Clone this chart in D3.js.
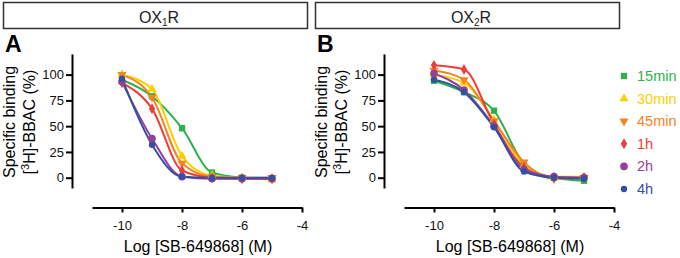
<!DOCTYPE html>
<html>
<head>
<meta charset="utf-8">
<script src="https://cdn.jsdelivr.net/npm/d3@7"></script>
<style>
  body { margin: 0; background: #fff; }
  text { font-family: "Liberation Sans", Arial, sans-serif; }
</style>
</head>
<body>
<script>
// ----------------------------------------
//  Data
// ----------------------------------------

var logConc = [-10, -9, -8, -7, -6, -5];
var seriesNames = ["15min", "30min", "45min", "1h", "2h", "4h"];
var seriesColors = ["#2bb24c", "#fcd000", "#f7821f", "#ee3d3a", "#973f98", "#3350a3"];
var seriesSymbols = ["square", "triangle", "triangleDown", "diamond", "circle", "circleSmall"];

// panel A : OX1R
var ox1_15min = [95, 79, 48, 5, 0, -1];
var ox1_30min = [100, 86, 21, 2, 0, -2];
var ox1_45min = [100, 78, 14, 1, 0, 0];
var ox1_1h    = [92, 67, 7, 0, -1, -1];
var ox1_2h    = [93, 38, 1, -1, -1, -1];
var ox1_4h    = [96, 32, 1, 0, 0, 0];

// panel B : OX2R
var ox2_15min = [94, 83, 65, 14, 0, -3];
var ox2_30min = [100, 92, 56, 12, 1, 1];
var ox2_45min = [104, 95, 55, 15, -1, 0];
var ox2_1h    = [109, 105, 52, 10, 0, 0];
var ox2_2h    = [101, 85, 50, 8, 1, 0];
var ox2_4h    = [95, 83, 49, 6, 0, -1];

var yTicks = [0, 25, 50, 75, 100];
var xTicks = [-10, -8, -6, -4];

var panels = [
  { letter: "A", sub: "1", data: [ox1_15min, ox1_30min, ox1_45min, ox1_1h, ox1_2h, ox1_4h] },
  { letter: "B", sub: "2", data: [ox2_15min, ox2_30min, ox2_45min, ox2_1h, ox2_2h, ox2_4h] }
];

// ----------------------------------------
//  Setup
// ----------------------------------------

var svg = d3.select("body").append("svg")
    .attr("width", 680)
    .attr("height", 258);

var panelShift = 312;

function symbolPath(kind) {
  if (kind == "square") return d3.symbol(d3.symbolSquare, 40)();
  if (kind == "triangle") return d3.symbol(d3.symbolTriangle, 36)();
  if (kind == "triangleDown") return d3.symbol(d3.symbolTriangle, 36)();
  if (kind == "diamond") return d3.symbol(d3.symbolDiamond, 34)();
  if (kind == "circle") return d3.symbol(d3.symbolCircle, 46)();
  return d3.symbol(d3.symbolCircle, 32)();
}

function symbolRotate(kind) {
  return kind == "triangleDown" ? " rotate(180)" : "";
}

panels.forEach(function(p, pi) {
  var off = pi * panelShift;
  var g = svg.append("g").attr("transform", "translate(" + off + ",0)");

  // header box
  g.append("rect")
    .attr("x", 3.5).attr("y", 2.5)
    .attr("width", 304).attr("height", 26)
    .attr("fill", "#fff")
    .attr("stroke", "#333")
    .attr("stroke-width", 1.5);

  var head = g.append("text")
    .attr("x", 159).attr("y", 23)
    .attr("text-anchor", "middle")
    .attr("font-size", 16)
    .attr("fill", "#222");
  head.append("tspan").text("OX");
  head.append("tspan").attr("font-size", 10).attr("dy", 3).text(p.sub);
  head.append("tspan").attr("dy", -3).text("R");

  // panel letter
  g.append("text")
    .attr("x", 5).attr("y", 52)
    .attr("font-size", 23)
    .attr("font-weight", "bold")
    .text(p.letter);

  // scales
  var x = d3.scaleLinear().domain([-11, -4]).range([92, 302]);
  var y = d3.scaleLinear().domain([-10, 120]).range([188, 54]);

  // axes
  var yAxis = g.append("g")
    .attr("transform", "translate(72,0)")
    .call(d3.axisLeft(y).tickValues(yTicks).tickSize(6).tickSizeOuter(0).tickPadding(2));

  var xAxis = g.append("g")
    .attr("transform", "translate(0,207.5)")
    .call(d3.axisBottom(x).tickValues(xTicks)
      .tickFormat(function(d) { return String(d); })
      .tickSize(5).tickSizeOuter(0).tickPadding(4));

  [xAxis, yAxis].forEach(function(a) {
    a.select(".domain").attr("stroke", "#000").attr("stroke-width", 2);
    a.selectAll(".tick line").attr("stroke", "#000").attr("stroke-width", 2);
    a.selectAll(".tick text").attr("font-size", 13).attr("fill", "#111")
      .style("font-family", "'Liberation Sans', Arial, sans-serif");
  });
  xAxis.selectAll(".tick text").attr("dy", "1.05em");

  // axis titles
  g.append("text")
    .attr("transform", "translate(15,122) rotate(-90)")
    .attr("text-anchor", "middle")
    .attr("font-size", 16)
    .text("Specific binding");

  var t2 = g.append("text")
    .attr("transform", "translate(35,122) rotate(-90)")
    .attr("text-anchor", "middle")
    .attr("font-size", 16);
  t2.append("tspan").text("[");
  t2.append("tspan").attr("font-size", 11).attr("dy", -6).text("3");
  t2.append("tspan").attr("dy", 6).text("H]-BBAC (%)");

  g.append("text")
    .attr("x", 198).attr("y", 252)
    .attr("text-anchor", "middle")
    .attr("font-size", 16)
    .text("Log [SB-649868] (M)");

  // curves
  var line = d3.line()
    .x(function(d, i) { return x(logConc[i]); })
    .y(function(d) { return y(d); })
    .curve(d3.curveMonotoneX);

  p.data.forEach(function(vals, si) {
    g.append("path")
      .attr("d", line(vals))
      .attr("fill", "none")
      .attr("stroke", seriesColors[si])
      .attr("stroke-width", 2);
  });

  // markers
  p.data.forEach(function(vals, si) {
    var kind = seriesSymbols[si];
    g.selectAll(".m" + si)
      .data(vals)
      .enter()
      .append("path")
      .attr("class", "m" + si)
      .attr("d", symbolPath(kind))
      .attr("transform", function(d, i) {
        return "translate(" + x(logConc[i]) + "," + y(d) + ")" + symbolRotate(kind);
      })
      .attr("fill", seriesColors[si]);
  });
});

// ----------------------------------------
//  Legend
// ----------------------------------------

var legend = svg.append("g");
var rowY = d3.scaleLinear().domain([0, 5]).range([76, 189]);

seriesNames.forEach(function(name, si) {
  var kind = seriesSymbols[si];
  legend.append("path")
    .attr("d", symbolPath(kind))
    .attr("transform", "translate(624," + rowY(si) + ")" + symbolRotate(kind))
    .attr("fill", seriesColors[si]);
  legend.append("text")
    .attr("x", 637)
    .attr("y", rowY(si) + 5)
    .attr("font-size", 14.5)
    .attr("fill", seriesColors[si])
    .text(name);
});

console.log("End of Program");
</script>
</body>
</html>
